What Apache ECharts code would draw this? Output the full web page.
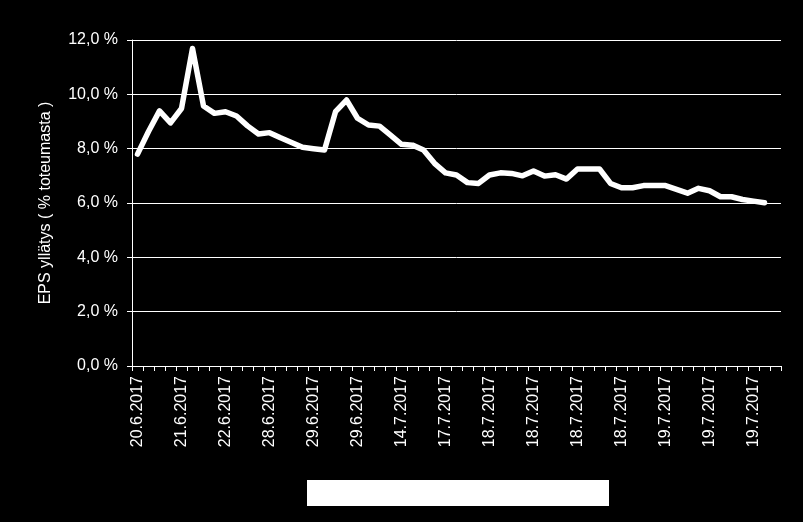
<!DOCTYPE html>
<html>
<head>
<meta charset="utf-8">
<script src="https://cdn.jsdelivr.net/npm/echarts@6/dist/echarts.min.js"></script>
<style>html,body{margin:0;padding:0;background:#000;}#c{width:803px;height:522px;}</style>
</head>
<body>
<div id="c"></div>
<script>
var categories = [
 '20.6.2017','20.6.2017','21.6.2017','21.6.2017',
 '21.6.2017','21.6.2017','22.6.2017','22.6.2017',
 '22.6.2017','22.6.2017','28.6.2017','28.6.2017',
 '28.6.2017','28.6.2017','29.6.2017','29.6.2017',
 '29.6.2017','29.6.2017','29.6.2017','29.6.2017',
 '29.6.2017','29.6.2017','14.7.2017','14.7.2017',
 '14.7.2017','14.7.2017','17.7.2017','17.7.2017',
 '17.7.2017','17.7.2017','18.7.2017','18.7.2017',
 '18.7.2017','18.7.2017','18.7.2017','18.7.2017',
 '18.7.2017','18.7.2017','18.7.2017','18.7.2017',
 '18.7.2017','18.7.2017','18.7.2017','18.7.2017',
 '18.7.2017','18.7.2017','19.7.2017','19.7.2017',
 '19.7.2017','19.7.2017','19.7.2017','19.7.2017',
 '19.7.2017','19.7.2017','19.7.2017','19.7.2017',
 '19.7.2017','19.7.2017',''
];
var epsSurprise = [
 7.80, 8.63, 9.39, 8.95, 9.48, 11.69, 9.57, 9.30, 9.36, 9.20,
 8.84, 8.54, 8.59, 8.40, 8.23, 8.05, 8.00, 7.95, 9.36, 9.79,
 9.12, 8.87, 8.83, 8.50, 8.16, 8.13, 7.95, 7.46, 7.11, 7.03,
 6.75, 6.72, 7.03, 7.11, 7.09, 7.00, 7.18, 6.99, 7.04, 6.88,
 7.25, 7.25, 7.25, 6.72, 6.56, 6.56, 6.64, 6.64, 6.64, 6.50,
 6.36, 6.54, 6.45, 6.23, 6.23, 6.13, 6.07, 6.01
];
var yTicks = [0, 2, 4, 6, 8, 10, 12];
var yAxisTitle = 'EPS yllätys ( % toteumasta )';

var chart = echarts.init(document.getElementById('c'), null, {renderer: 'canvas'});
var font = 'Liberation Sans, Arial, sans-serif';
chart.setOption({
  backgroundColor: '#000',
  animation: false,
  grid: {left: 132, right: 22, top: 40, bottom: 156},
  xAxis: {
    type: 'category',
    data: categories,
    boundaryGap: true,
    axisLine: {show: true, lineStyle: {color: '#fff', width: 1}},
    axisTick: {show: true, interval: 0, length: 5, lineStyle: {color: '#fff'}},
    axisLabel: {
      interval: 3, rotate: 90, color: '#fff', fontSize: 16, fontFamily: font, margin: 10
    },
    splitLine: {show: false}
  },
  yAxis: {
    type: 'value',
    min: yTicks[0],
    max: yTicks[yTicks.length - 1],
    interval: 2,
    name: yAxisTitle,
    nameLocation: 'middle',
    nameGap: 78,
    nameTextStyle: {color: '#fff', fontSize: 16, fontFamily: font},
    axisLine: {show: true, lineStyle: {color: '#fff', width: 1}},
    axisTick: {show: true, length: 5, lineStyle: {color: '#fff'}},
    axisLabel: {
      color: '#fff', fontSize: 16, fontFamily: font, margin: 14,
      formatter: function (v) { return v.toFixed(1).replace('.', ',') + ' %'; }
    },
    splitLine: {show: true, lineStyle: {color: '#fff', width: 1}}
  },
  series: [{
    type: 'line',
    data: epsSurprise,
    symbol: 'none',
    lineStyle: {color: '#fff', width: 5.5, join: 'round', cap: 'round'},
    itemStyle: {color: '#fff'}
  }],
  graphic: [{
    type: 'rect',
    left: 307, top: 480,
    shape: {width: 302, height: 26},
    style: {fill: '#fff'}
  }]
});
</script>
</body>
</html>
